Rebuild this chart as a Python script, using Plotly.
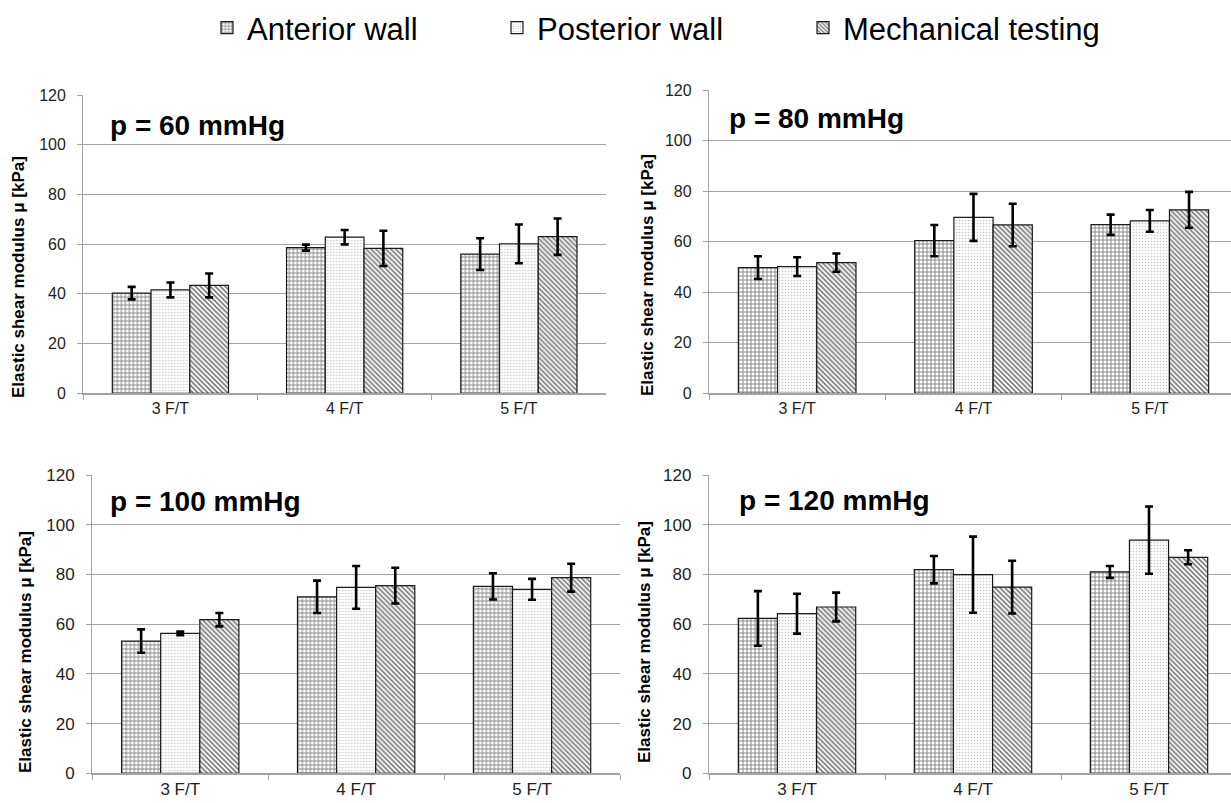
import plotly.graph_objects as go

# ---------------- data ----------------
categories = ["3 F/T", "4 F/T", "5 F/T"]
panel_titles = ["p = 60 mmHg", "p = 80 mmHg", "p = 100 mmHg", "p = 120 mmHg"]
series_names = ["Anterior wall", "Posterior wall", "Mechanical testing"]

# one row per panel (60, 80, 100, 120 mmHg), one value per category
anterior_mean = [[40.3, 58.6, 56.0], [49.7, 60.4, 66.7], [53.2, 71.0, 75.2], [62.3, 81.9, 81.0]]
anterior_err = [[2.5, 1.2, 6.4], [4.5, 6.2, 4.0], [4.7, 6.5, 5.3], [11.0, 5.5, 2.4]]
posterior_mean = [[41.6, 62.8, 60.1], [50.1, 69.6, 68.2], [56.3, 74.8, 74.0], [64.2, 79.9, 93.8]]
posterior_err = [[3.0, 2.9, 7.8], [3.7, 9.3, 4.3], [0.7, 8.6, 4.2], [8.0, 15.3, 13.5]]
mech_mean = [[43.4, 58.3, 63.0], [51.7, 66.6, 72.6], [61.8, 75.5, 78.7], [66.9, 74.9, 86.9]]
mech_err = [[4.8, 7.1, 7.3], [3.6, 8.4, 7.1], [2.7, 7.2, 5.6], [5.8, 10.6, 2.8]]

y_ticks = [0, 20, 40, 60, 80, 100, 120]
y_title = "Elastic shear modulus μ [kPa]"

# ---------------- style / layout ----------------
W, H = 1231, 803
FONT = "Liberation Sans, Arial, sans-serif"
GRID = "#a3a3a3"

# plot boxes in pixels: left, right, top, bottom
boxes = [(83.3, 606.0, 95.0, 393.3),
         (709.0, 1238.0, 90.0, 393.3),
         (92.3, 620.0, 475.0, 773.3),
         (709.0, 1237.0, 475.0, 773.3)]
tick_sizes = [16, 16, 17, 17]
title_pos = [(108, 126), (727, 118), (108, 501), (737, 500)]
ytitle_pos = [(18, 277), (647, 275), (25, 652), (644, 642)]

patterns = [
    dict(shape="+", size=4, solidity=0.4, fgcolor="#000000", bgcolor="white"),
    dict(shape=".", size=3, solidity=0.22, fgcolor="#8c8c8c", bgcolor="white"),
    dict(shape="\\", size=3.5, solidity=0.5, fgcolor="#000000", bgcolor="white"),
]
legend_ids = ["legend", "legend2", "legend3"]
means = [anterior_mean, posterior_mean, mech_mean]
errs = [anterior_err, posterior_err, mech_err]

fig = go.Figure()
layout = dict(width=W, height=H, margin=dict(l=0, r=0, t=0, b=0, pad=0, autoexpand=False),
              paper_bgcolor="white", plot_bgcolor="white",
              barmode="group", bargap=0.333, bargroupgap=0.0,
              font=dict(family=FONT, color="#1e1e1e"))
annotations = []

for p, (l, r, t, b) in enumerate(boxes):
    xs = "" if p == 0 else str(p + 1)
    rr = min(r, W)
    cw = (r - l) / 3.0
    x_end = -0.5 + (rr - l) / cw
    layout["xaxis" + xs] = dict(
        domain=[l / W, rr / W], anchor="y" + xs, type="category",
        range=[-0.5, x_end], showgrid=False, zeroline=False,
        showline=True, linecolor=GRID, linewidth=1.2,
        ticks="outside", tickson="boundaries", ticklen=5, tickcolor=GRID,
        tickfont=dict(size=tick_sizes[p], family=FONT, color="#1e1e1e"),
        automargin=False, fixedrange=True)
    layout["yaxis" + xs] = dict(
        domain=[1 - b / H, 1 - t / H], anchor="x" + xs,
        range=[0, 120], tickvals=y_ticks, showgrid=True, gridcolor=GRID,
        gridwidth=1.2, zeroline=False, showline=True, linecolor=GRID,
        linewidth=1.2, ticks="outside", ticklen=5, tickcolor=GRID,
        ticklabelstandoff=8, automargin=False,
        tickfont=dict(size=tick_sizes[p], family=FONT, color="#1e1e1e"),
        fixedrange=True)

    for s in range(3):
        fig.add_trace(go.Bar(
            x=categories, y=means[s][p], name=series_names[s],
            xaxis="x" + xs, yaxis="y" + xs,
            marker=dict(color="white", line=dict(color="#1a1a1a", width=1.2),
                        pattern=patterns[s]),
            error_y=dict(type="data", array=errs[s][p], visible=True,
                         color="black", thickness=2.6, width=4),
            showlegend=(p == 0), legend=legend_ids[s], hoverinfo="skip"))

    tx, ty = title_pos[p]
    annotations.append(dict(text="<b>%s</b>" % panel_titles[p], x=tx / W, y=1 - ty / H,
                            xref="paper", yref="paper", xanchor="left", yanchor="middle",
                            showarrow=False, font=dict(size=28, family=FONT, color="black")))
    yx, yy = ytitle_pos[p]
    annotations.append(dict(text="<b>%s</b>" % y_title, x=yx / W, y=1 - yy / H,
                            xref="paper", yref="paper", xanchor="center", yanchor="middle",
                            textangle=-90, showarrow=False,
                            font=dict(size=17, family=FONT, color="black")))

legend_x = [207, 497, 803]
for i, lid in enumerate(legend_ids):
    layout[lid] = dict(x=legend_x[i] / W, y=1 - 28 / H, xanchor="left", yanchor="middle",
                       orientation="h", bgcolor="rgba(0,0,0,0)", borderwidth=0,
                       font=dict(size=31, family=FONT, color="black"))

layout["annotations"] = annotations
fig.update_layout(**layout)
fig.write_html("out.html", config={"displayModeBar": False, "staticPlot": True},
               post_script="document.body.style.margin='0px';document.body.style.overflow='hidden';")
